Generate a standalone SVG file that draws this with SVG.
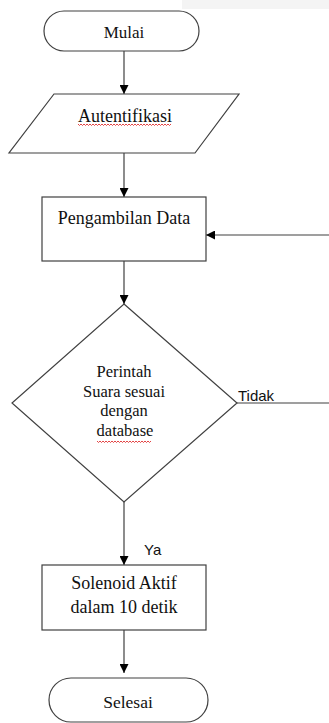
<svg xmlns="http://www.w3.org/2000/svg" width="329" height="723" viewBox="0 0 329 723">
<defs>
<marker id="ah" viewBox="0 0 10 10" refX="10" refY="5" markerWidth="9" markerHeight="9" markerUnits="userSpaceOnUse" orient="auto">
<path d="M0,0 L10,5 L0,10 z" fill="#000"/>
</marker>
</defs>
<style>
.shape{fill:#fff;stroke:#404040;stroke-width:1.2}
.t{font-family:"Liberation Serif","Times New Roman",serif;fill:#111;text-anchor:middle}
.s{font-family:"Liberation Sans",Arial,sans-serif;fill:#111;font-size:15px}
.c{fill:none;stroke:#404040;stroke-width:1.2}
.w{fill:none;stroke:#e03030;stroke-width:0.9}
</style>
<rect x="182" y="0" width="147" height="9" fill="#f4f4f4"/>
<g id="connectors">
<line class="c" x1="124" y1="51" x2="124" y2="94" marker-end="url(#ah)"/>
<line class="c" x1="124" y1="153" x2="124" y2="197" marker-end="url(#ah)"/>
<line class="c" x1="329" y1="235" x2="206" y2="235" marker-end="url(#ah)"/>
<line class="c" x1="124" y1="261" x2="124" y2="304" marker-end="url(#ah)"/>
<line class="c" x1="237" y1="403" x2="329" y2="403"/>
<line class="c" x1="124" y1="502" x2="124" y2="565" marker-end="url(#ah)"/>
<line class="c" x1="124" y1="630" x2="124" y2="673" marker-end="url(#ah)"/>
<text class="s" x="238" y="401">Tidak</text>
<text class="s" x="144" y="555">Ya</text>
</g>
<g id="mulai">
<rect class="shape" x="44" y="11" width="155" height="40" rx="20" ry="20"/>
<text class="t" x="124" y="38" font-size="17">Mulai</text>
</g>
<g id="autentifikasi">
<polygon class="shape" points="54,94 239,94 195,153 9,153"/>
<text class="t" x="125" y="122" font-size="18">Autentifikasi</text>
<path class="w" d="M78,124 l1.5,1.5 l1.5,-1.5 l1.5,1.5 l1.5,-1.5 l1.5,1.5 l1.5,-1.5 l1.5,1.5 l1.5,-1.5 l1.5,1.5 l1.5,-1.5 l1.5,1.5 l1.5,-1.5 l1.5,1.5 l1.5,-1.5 l1.5,1.5 l1.5,-1.5 l1.5,1.5 l1.5,-1.5 l1.5,1.5 l1.5,-1.5 l1.5,1.5 l1.5,-1.5 l1.5,1.5 l1.5,-1.5 l1.5,1.5 l1.5,-1.5 l1.5,1.5 l1.5,-1.5 l1.5,1.5 l1.5,-1.5 l1.5,1.5 l1.5,-1.5 l1.5,1.5 l1.5,-1.5 l1.5,1.5 l1.5,-1.5 l1.5,1.5 l1.5,-1.5 l1.5,1.5 l1.5,-1.5 l1.5,1.5 l1.5,-1.5 l1.5,1.5 l1.5,-1.5 l1.5,1.5 l1.5,-1.5 l1.5,1.5 l1.5,-1.5 l1.5,1.5 l1.5,-1.5 l1.5,1.5 l1.5,-1.5 l1.5,1.5 l1.5,-1.5 l1.5,1.5 l1.5,-1.5 l1.5,1.5 l1.5,-1.5 l1.5,1.5 l1.5,-1.5 l1.5,1.5 l1.5,-1.5"/>
</g>
<g id="pengambilan">
<rect class="shape" x="42" y="197" width="164" height="64"/>
<text class="t" x="124" y="224" font-size="18">Pengambilan Data</text>
</g>
<g id="keputusan">
<polygon class="shape" points="124,304 237,403 124,502 12,403"/>
<text class="t" x="124" y="377" font-size="16.5">Perintah</text>
<text class="t" x="124" y="397" font-size="16.5">Suara sesuai</text>
<text class="t" x="124" y="416" font-size="16.5">dengan</text>
<text class="t" x="125" y="436" font-size="16.5">database</text>
<path class="w" d="M97,441 l1.5,1.5 l1.5,-1.5 l1.5,1.5 l1.5,-1.5 l1.5,1.5 l1.5,-1.5 l1.5,1.5 l1.5,-1.5 l1.5,1.5 l1.5,-1.5 l1.5,1.5 l1.5,-1.5 l1.5,1.5 l1.5,-1.5 l1.5,1.5 l1.5,-1.5 l1.5,1.5 l1.5,-1.5 l1.5,1.5 l1.5,-1.5 l1.5,1.5 l1.5,-1.5 l1.5,1.5 l1.5,-1.5 l1.5,1.5 l1.5,-1.5 l1.5,1.5 l1.5,-1.5 l1.5,1.5 l1.5,-1.5 l1.5,1.5 l1.5,-1.5 l1.5,1.5 l1.5,-1.5 l1.5,1.5 l1.5,-1.5"/>
</g>
<g id="solenoid">
<rect class="shape" x="42" y="565" width="164" height="65"/>
<text class="t" x="124" y="589" font-size="18">Solenoid Aktif</text>
<text class="t" x="124" y="613" font-size="18">dalam 10 detik</text>
</g>
<g id="selesai">
<rect class="shape" x="49" y="678" width="159" height="44" rx="22" ry="22"/>
<text class="t" x="128" y="708" font-size="17.5">Selesai</text>
</g>
</svg>
